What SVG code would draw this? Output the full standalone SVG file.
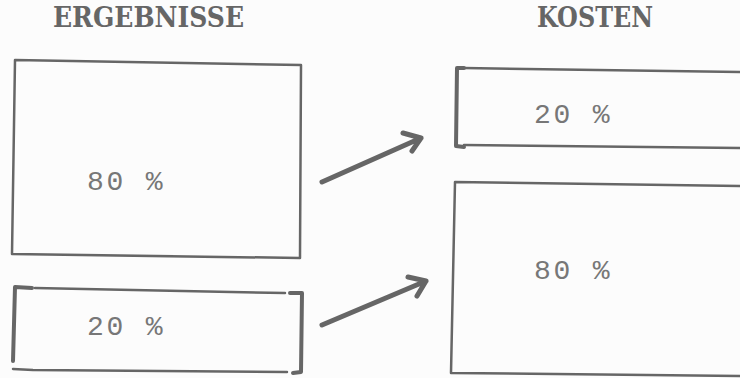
<svg xmlns="http://www.w3.org/2000/svg" width="740" height="378" viewBox="0 0 740 378">
<style>
.title{font-family:"DejaVu Serif",serif;font-weight:bold;font-size:27px;fill:#666}
.pct{font-family:"Liberation Mono","Courier New",monospace;font-size:28px;fill:#777;letter-spacing:2.8px}
.box{fill:none;stroke:#666;stroke-width:2.5;stroke-linecap:round;stroke-linejoin:round}
.br{fill:none;stroke:#666;stroke-width:4;stroke-linecap:round;stroke-linejoin:round}
.arr{fill:none;stroke:#666;stroke-width:5;stroke-linecap:round;stroke-linejoin:round}
</style>
<rect width="740" height="378" fill="#fcfcfc"/>
<g id="title-ergebnisse"><text class="title" x="53" y="27" textLength="191" lengthAdjust="spacingAndGlyphs">ERGEBNISSE</text></g>
<g id="title-kosten"><text class="title" x="537" y="27" textLength="116" lengthAdjust="spacingAndGlyphs">KOSTEN</text></g>
<g id="erg-80">
<path class="box" d="M15 60 L301 65 L300 258 L12 254 Z"/>
<text class="pct" x="87" y="190">80 %</text>
</g>
<g id="erg-20">
<path class="br" d="M32 288 L15 287 L13 361"/>
<path class="box" d="M35 288 L285 293"/>
<path class="box" d="M13 369 L33 370 L287 372"/>
<path class="br" d="M290 293 L302 293 L301 372 L293 373"/>
<text class="pct" x="87" y="335">20 %</text>
</g>
<g id="kos-20">
<path class="br" d="M464 68 L457 68 L456 146 L464 147"/>
<path class="box" d="M464 68 L740 72"/>
<path class="box" d="M464 145 L740 148"/>
<text class="pct" x="534" y="123">20 %</text>
</g>
<g id="kos-80">
<path class="box" d="M740 186 L455 182 L451 373 L740 376"/>
<text class="pct" x="534" y="279">80 %</text>
</g>
<g id="connectors">
<path class="arr" d="M322 182 L421 138 M403 133 L421 138 L412 151"/>
<path class="arr" d="M322 325 L426 281 M408 277 L426 281 L417 296"/>
</g>
</svg>
